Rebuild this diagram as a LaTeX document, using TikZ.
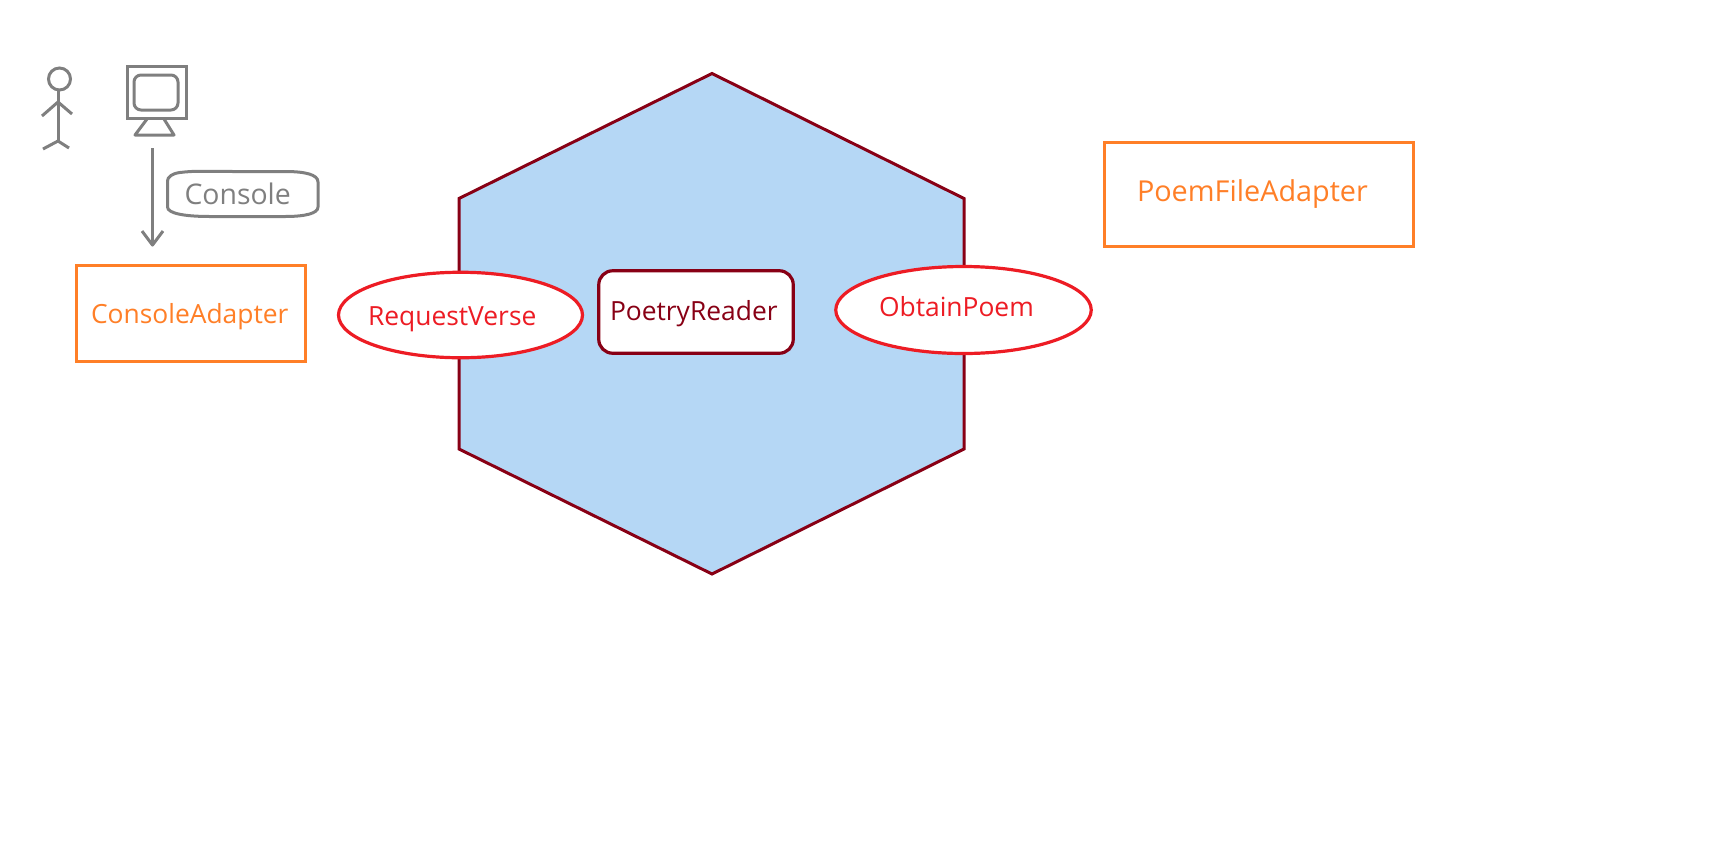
\documentclass[tikz,border=0pt]{standalone}
\usepackage{fontspec}
\setmainfont{Open Sans}
\usetikzlibrary{shapes.geometric}
\definecolor{cOrange}{HTML}{FF7F27}
\definecolor{cRed}{HTML}{ED1C24}
\definecolor{cDark}{HTML}{880015}
\definecolor{cGrey}{HTML}{7F7F7F}
\definecolor{cBlue}{HTML}{B5D7F5}
\tikzset{
  px/.style={x=1pt,y=-1pt},
  adapterbox/.style={draw=cOrange,line width=3.4pt,inner sep=0pt,outer sep=0pt,fill=white},
  portell/.style={draw=cRed,line width=3.2pt,ellipse,inner sep=0pt,outer sep=0pt,fill=white},
  corebox/.style={draw=cDark,line width=3.2pt,rounded corners=14pt,inner sep=0pt,outer sep=0pt,fill=white},
  hexa/.style={draw=cDark,line width=3pt,fill=cBlue,line join=miter},
  greyline/.style={draw=cGrey,line width=3pt},
  lab/.style={inner sep=0pt,outer sep=0pt,anchor=base west,font=\fontsize{26.4}{30}\selectfont},
}
\begin{document}
\begin{tikzpicture}[px]
\useasboundingbox (0,0) rectangle (1721,855);
% hexagon
\draw[hexa] (712,73.5) -- (964,198.5) -- (964,449) -- (712,574) -- (459,449) -- (459,198.5) -- cycle;
% boxes
\node[adapterbox,minimum width=228.5pt,minimum height=95.5pt] (consoleadapter) at (191,313.5) {};
\node[adapterbox,minimum width=308.5pt,minimum height=104pt] (poemfileadapter) at (1259,194.2) {};
\node[portell,minimum width=244pt,minimum height=85.5pt] (requestverse) at (460.5,315) {};
\node[portell,minimum width=255.5pt,minimum height=87pt] (obtainpoem) at (963.5,310) {};
\node[corebox,minimum width=194.5pt,minimum height=82.5pt] (poetryreader) at (696,312) {};
% labels
\node[lab,text=cOrange] (t1) at (91,323.5) {ConsoleAdapter};
\node[lab,text=cOrange,font=\fontsize{28.8}{32}\selectfont] (t2) at (1137,201) {PoemFileAdapter};
\node[lab,text=cRed] (t3) at (368,325.5) {RequestVerse};
\node[lab,text=cRed] (t4) at (879,316) {ObtainPoem};
\node[lab,text=cDark] (t5) at (610,320.5) {PoetryReader};
% actor
\node[draw=cGrey,line width=3pt,circle,minimum size=22pt,inner sep=0pt,outer sep=0pt] (head) at (59.5,79) {};
\coordinate (hip) at (58,141);
\coordinate (neck) at (58,91);
\coordinate (shoulder) at (58,102);
\draw[greyline] (neck) -- (hip);
\draw[greyline] (42,116) -- (shoulder) -- (72,114);
\draw[greyline] (43,149) -- (hip) -- (69,148);
% monitor
\node[draw=cGrey,line width=3pt,minimum width=59pt,minimum height=52pt,inner sep=0pt,outer sep=0pt] (monitor) at (156.5,92) {};
\node[draw=cGrey,line width=3pt,rounded corners=7pt,minimum width=44pt,minimum height=35pt,inner sep=0pt,outer sep=0pt] (screen) at (156,92.5) {};
\draw[greyline,line join=round] (147,119) -- (135,135) -- (174,135) -- (164,119);
% arrow
\coordinate (arrowstart) at (152.5,148);
\coordinate (arrowend) at (152.5,245);
\draw[greyline] (arrowstart) -- (arrowend);
\draw[greyline,line join=round] (142,231) -- (arrowend) -- (163,231);
% console tag
\draw[greyline] (180,172.5) .. controls (195,170.5) and (210,171.5) .. (235,171.5)
  -- (285,171.5) .. controls (305,171.5) and (318,174.5) .. (318,182)
  -- (318,207) .. controls (318,213.5) and (305,216.5) .. (285,216.5)
  -- (210,216.5) .. controls (185,216.5) and (167.5,213.5) .. (167.5,207)
  -- (167.5,181) .. controls (167.5,177) and (172,173.5) .. (180,172.5) -- cycle;
\node[lab,text=cGrey,font=\fontsize{28.4}{32}\selectfont] (t6) at (184.5,204.5) {Console};
\end{tikzpicture}
\end{document}
